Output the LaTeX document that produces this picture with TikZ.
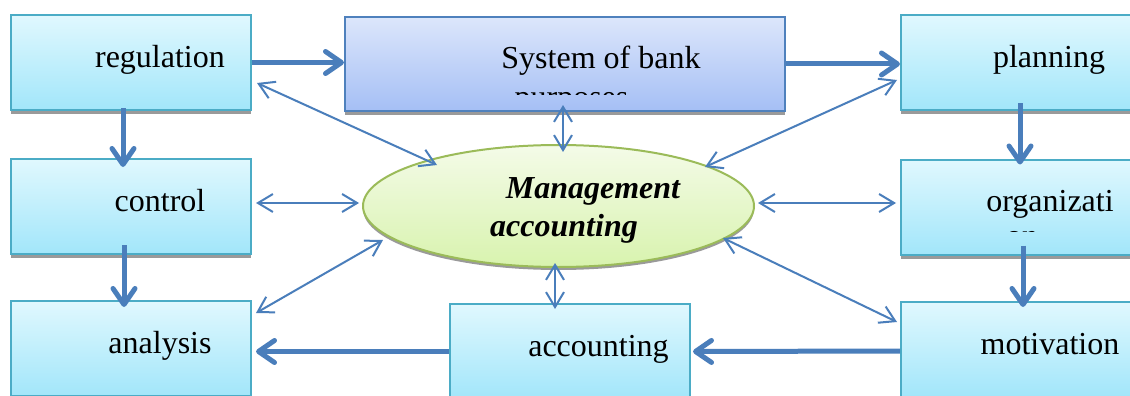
\documentclass[tikz,border=0pt]{standalone}
\usepackage{fontspec}
\setmainfont{Liberation Serif}
\usetikzlibrary{arrows.meta,shapes.geometric,shadows}
\definecolor{boxline}{HTML}{4BACC6}
\definecolor{boxtop}{HTML}{E0F8FE}
\definecolor{boxbot}{HTML}{A2E6FA}
\definecolor{sysline}{HTML}{4F81BD}
\definecolor{systop}{HTML}{DCE6FB}
\definecolor{sysbot}{HTML}{A5BFF5}
\definecolor{ellline}{HTML}{9BBB59}
\definecolor{elltop}{HTML}{F4FBE8}
\definecolor{ellbot}{HTML}{D8F3AE}
\definecolor{arr}{HTML}{4A7EBB}
\definecolor{shad}{HTML}{9A9A9A}
\begin{document}
\begin{tikzpicture}[x=1pt,y=-1pt,
  txt/.style={font=\fontsize{32}{38}\selectfont},
  card/.style={txt, draw=boxline, line width=2pt, top color=boxtop, bottom color=boxbot,
    minimum width=240pt, minimum height=95pt, inner sep=0pt, text height=22pt, text depth=13pt,
    drop shadow={shadow xshift=0pt, shadow yshift=-4pt, fill=shad, opacity=1}},
  sysbox/.style={card, draw=sysline, top color=systop, bottom color=sysbot,
    minimum width=440pt, minimum height=94pt},
  oval/.style={ellipse, draw=ellline, line width=2pt, top color=elltop, bottom color=ellbot,
    minimum width=391pt, minimum height=122pt, inner sep=0pt, align=center,
    font=\fontsize{32}{38}\selectfont\bfseries\itshape,
    drop shadow={shadow xshift=0pt, shadow yshift=-3pt, fill=shad, opacity=1}},
  flow/.style={draw=arr, line width=5pt, -{Straight Barb[length=16pt,width=22pt,round]}},
  link/.style={draw=arr, line width=2pt, {Straight Barb[length=15pt,width=18pt]}-{Straight Barb[length=15pt,width=18pt]}}
]
\useasboundingbox (0,0) rectangle (1130,396);
\fill[white] (0,0) rectangle (1130,396);
\clip (0,0) rectangle (1130,396);

\node[card] (reg) at (131,62.5) {\hspace*{58pt}regulation};
\node[card] (ctl) at (131,206.5) {\hspace*{58pt}control};
\node[card] (ana) at (131,348.5) {\hspace*{58pt}analysis};
\node[sysbox] (sys) at (565,64) {\hspace*{72pt}System of bank};
\node[card] (pla) at (1021,62.5) {\hspace*{56pt}planning};
\node[card] (org) at (1021,207) {\hspace*{58pt}organizati};
\node[card] (mot) at (1021,349.5) {\hspace*{58pt}motivation};
\node[card] (acc) at (570,351.5) {\hspace*{57pt}accounting};
\node[oval] (ell) at (558.5,206) {\rule{0pt}{29pt}\hspace*{69pt}Management\\\hspace*{11pt}accounting};

\begin{scope}
  \clip (sys.north west) rectangle ([shift={(0,-18)}]sys.south east);
  \node[txt, anchor=base] (purp) at (571.5,107) {purposes};
\end{scope}
\begin{scope}
  \clip (org.north west) rectangle ([shift={(0,-24)}]org.south east);
  \node[txt, anchor=base] (on) at (1022,246) {on};
\end{scope}

% thin two-way links
\draw[link] ([shift={(5,20.5)}]reg.east) -- ([shift={(-121.5,-41)}]ell.center);
\draw[link] ([shift={(-2,-7)}]sys.south) -- ([shift={(4.5,-54)}]ell.center);
\draw[link] ([shift={(-3,17.5)}]pla.west) -- ([shift={(146.5,-39)}]ell.center);
\draw[link] ([shift={(4,-3.5)}]ctl.east) -- ([shift={(-199.5,-3)}]ell.center);
\draw[link] ([shift={(199.5,-3)}]ell.center) -- ([shift={(-4,-4)}]org.west);
\draw[link] ([shift={(4,13)}]ana.north east) -- ([shift={(-175.5,34)}]ell.center);
\draw[link] ([shift={(164.5,32)}]ell.center) -- ([shift={(-3,21)}]mot.north west);
\draw[link] ([shift={(-3.5,57)}]ell.center) -- ([shift={(-15,6)}]acc.north);

% thick flow arrows
\draw[flow] (reg.east) -- (reg.east -| sys.west);
\draw[flow] (sys.east) -- (sys.east -| pla.west);
\draw[flow] ([shift={(-8,-3)}]reg.south) -- ([shift={(-8,9)}]ctl.north);
\draw[flow] ([shift={(-7,-10)}]ctl.south) -- ([shift={(-7,7)}]ana.north);
\draw[flow] ([shift={(-1,-8)}]pla.south) -- ([shift={(-1,6)}]org.north);
\draw[flow] ([shift={(2,-10)}]org.south) -- ([shift={(2,6)}]mot.north);
\draw[flow] ([shift={(0,1.5)}]mot.west) -- ([shift={(2,0)}]acc.east);
\draw[flow] (acc.west) -- ([shift={(4,3)}]ana.east);
\end{tikzpicture}
\end{document}
